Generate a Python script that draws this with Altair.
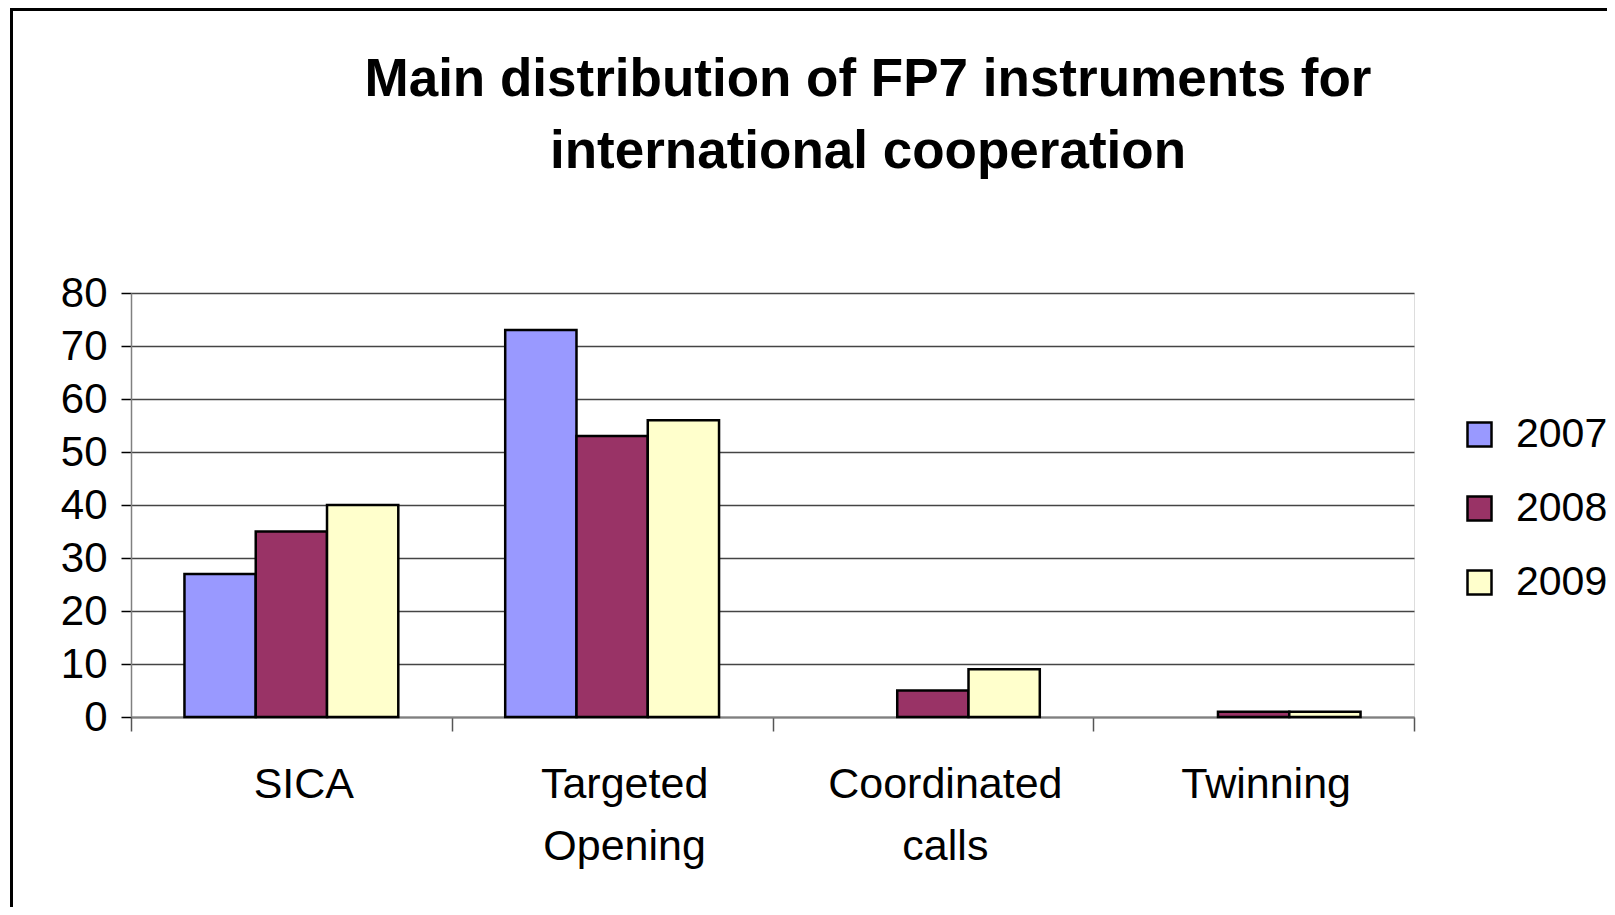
import altair as alt
import pandas as pd

# ---- data ----
categories = ["SICA", "Targeted Opening", "Coordinated calls", "Twinning"]
years = ["2007", "2008", "2009"]
v2007 = [27, 73, 0, 0]
v2008 = [35, 53, 5, 1]
v2009 = [40, 56, 9, 1]
colors = ["#9999FF", "#993366", "#FFFFCC"]
title_lines = ["Main distribution of FP7 instruments for", "international cooperation"]

rows = []
for yr, vals in zip(years, [v2007, v2008, v2009]):
    for c, v in zip(categories, vals):
        rows.append({"category": c, "year": yr, "value": v})
df = pd.DataFrame(rows)

FONT = "Liberation Sans"
W, H = 1283, 424
PL, PT = 123, 285

bars = alt.Chart(df).transform_filter("datum.value > 0").mark_bar(
    stroke="black", strokeWidth=2.5
).encode(
    x=alt.X("category:N", sort=categories, title=None,
            scale=alt.Scale(paddingInner=0, paddingOuter=0),
            axis=alt.Axis(labelAngle=0, tickBand="extent", grid=False,
                          labelExpr="split(datum.label, ' ')", labelLimit=0,
                          labelFontSize=43, labelFont=FONT, labelColor="black",
                          labelLineHeight=62, labelPadding=32, labelOffset=12,
                          tickSize=14, tickColor="#555555", tickWidth=1.5,
                          domainColor="#808080", domainWidth=2)),
    xOffset=alt.XOffset("year:N", scale=alt.Scale(domain=years, paddingInner=0, paddingOuter=0.75)),
    y=alt.Y("value:Q", title=None,
            scale=alt.Scale(domain=[0, 80], nice=False),
            axis=alt.Axis(values=[0, 10, 20, 30, 40, 50, 60, 70, 80],
                          labelFontSize=42, labelFont=FONT, labelColor="black",
                          labelPadding=14, tickSize=10, tickColor="black", tickWidth=1.5,
                          domainColor="#808080", domainWidth=1.5,
                          grid=True, gridColor="#444444", gridWidth=1.3)),
    color=alt.Color("year:N", scale=alt.Scale(domain=years, range=colors),
                    legend=alt.Legend(title=None, orient="none", legendX=1328, legendY=121,
                                      symbolType="square", symbolSize=576,
                                      symbolStrokeColor="black", symbolStrokeWidth=2.5,
                                      labelFontSize=41, labelFont=FONT, labelColor="black",
                                      labelOffset=16, rowPadding=32, padding=0)),
)

one = pd.DataFrame({"k": [0]})
frame_v = alt.Chart(one).mark_rule(color="black", strokeWidth=3).encode(
    x=alt.value(-119.5), y=alt.value(-285), y2=alt.value(620))
frame_h = alt.Chart(one).mark_rule(color="black", strokeWidth=3).encode(
    x=alt.value(-121), x2=alt.value(1500), y=alt.value(-283.5))

title_df = pd.DataFrame({"t": ["\n".join(title_lines)]})
title = alt.Chart(title_df).mark_text(
    font=FONT, fontSize=53, fontWeight="bold", color="black",
    align="center", baseline="alphabetic", lineBreak="\n", lineHeight=72
).encode(text="t:N", x=alt.value(737), y=alt.value(-197))

chart = alt.layer(bars, frame_v, frame_h, title).properties(
    width=W, height=H,
    autosize=alt.AutoSizeParams(type="none"),
    padding={"left": PL, "top": PT, "right": 1599 - PL - W, "bottom": 899 - PT - H},
).configure_view(stroke="#808080", strokeWidth=2.5).configure(background="white")

chart.save("out.html", embed_options={"renderer": "svg", "actions": False})
